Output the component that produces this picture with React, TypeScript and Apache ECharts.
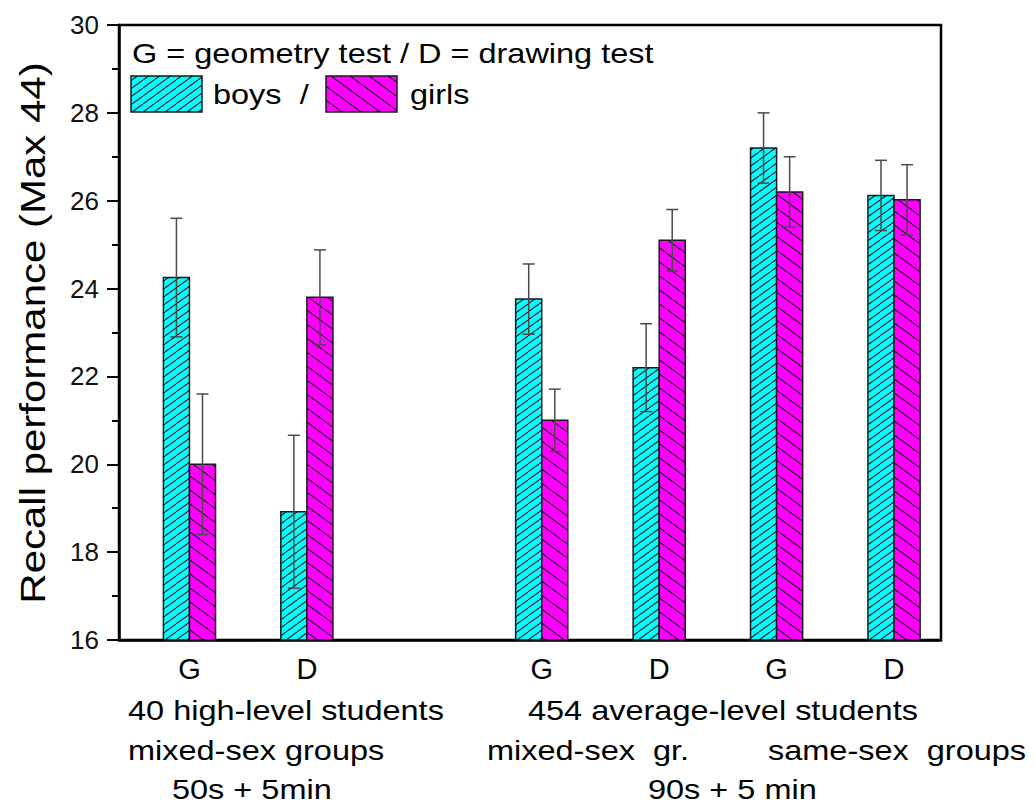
import React, { useEffect, useRef } from 'react';
import * as echarts from 'echarts';

// ---- data ----
const testLabels = ['G', 'D', 'G', 'D', 'G', 'D'];
const groupPositions = [0, 1, 3, 4, 5, 6];
const boysMean = [24.25, 18.92, 23.76, 22.2, 27.2, 26.12];
const boysErr = [1.35, 1.74, 0.8, 1.0, 0.8, 0.8];
const girlsMean = [20.0, 23.8, 21.0, 25.1, 26.2, 26.02];
const girlsErr = [1.6, 1.08, 0.71, 0.7, 0.8, 0.8];
const yTicks = { min: 16, max: 30, interval: 2 };
const yTitle = 'Recall performance (Max 44)';
const legendTitle = 'G = geometry test / D = drawing test';
const seriesNames = ['boys', 'girls'];

const FONT = '"Liberation Sans", Arial, Helvetica, sans-serif';
const CYAN = '#00ffff';
const MAGENTA = '#ff00ff';

function hatch(bg: string, W: number, H: number, dir: 'up' | 'down') {
  const c = document.createElement('canvas');
  c.width = W;
  c.height = H;
  const g = c.getContext('2d')!;
  g.fillStyle = bg;
  g.fillRect(0, 0, W, H);
  g.strokeStyle = '#1c1c1c';
  g.lineWidth = 1.1;
  g.beginPath();
  if (dir === 'up') {
    for (let n = 0; n <= 2; n++) {
      g.moveTo(n * W, 0);
      g.lineTo((n - 1) * W, H);
    }
  } else {
    for (let n = -1; n <= 1; n++) {
      g.moveTo(n * W, 0);
      g.lineTo((n + 1) * W, H);
    }
  }
  g.stroke();
  return { image: c, repeat: 'repeat' };
}

export default function App() {
  const ref = useRef<HTMLDivElement>(null);
  useEffect(() => {
    if (!ref.current) return;
    const chart = echarts.init(ref.current, null, { renderer: 'svg' });
    const cyanPat = hatch(CYAN, 11, 8, 'up');
    const magPat = hatch(MAGENTA, 19, 14, 'down');

    const makeRender = (side: number, pattern: any) => (params: any, api: any) => {
      const x = api.value(0);
      const v = api.value(1);
      const e = api.value(2);
      const top = api.coord([x, v]);
      const base = api.coord([x, yTicks.min]);
      const unit = api.size([1, 0])[0];
      const bw = unit * 0.222;
      const x0 = side < 0 ? top[0] - bw : top[0];
      const cx = x0 + bw / 2;
      const hi = api.coord([x, v + e])[1];
      const lo = api.coord([x, v - e])[1];
      const es = { stroke: '#4a4a4a', lineWidth: 1.5 };
      return {
        type: 'group',
        children: [
          {
            type: 'rect',
            shape: { x: x0, y: top[1], width: bw, height: base[1] - top[1] },
            style: { fill: pattern, stroke: '#1a1a1a', lineWidth: 1.5 },
          },
          { type: 'line', shape: { x1: cx, y1: hi, x2: cx, y2: lo }, style: es },
          { type: 'line', shape: { x1: cx - 6, y1: hi, x2: cx + 6, y2: hi }, style: es },
          { type: 'line', shape: { x1: cx - 6, y1: lo, x2: cx + 6, y2: lo }, style: es },
        ],
      };
    };

    const txt = (text: string, x: number, y: number, size: number, sx: number) => ({
      type: 'text',
      x,
      y,
      scaleX: sx,
      style: {
        text,
        fontSize: size,
        fontFamily: FONT,
        fill: '#000',
        textAlign: 'left',
        textVerticalAlign: 'middle',
      },
    });

    const option: any = {
      animation: false,
      backgroundColor: '#fff',
      grid: {
        left: 119,
        top: 25,
        right: 94,
        bottom: 165,
        show: true,
        borderColor: '#000',
        borderWidth: 2.5,
        backgroundColor: 'transparent',
      },
      xAxis: {
        type: 'value',
        min: -0.6,
        max: 6.4,
        axisLine: { show: true, onZero: false, lineStyle: { color: '#000', width: 2.5 } },
        axisTick: { show: false },
        splitLine: { show: false },
        axisLabel: {
          customValues: groupPositions,
          formatter: (v: number) => {
            const i = groupPositions.indexOf(Math.round(v));
            return i >= 0 ? testLabels[i] : '';
          },
          fontSize: 29,
          fontFamily: FONT,
          color: '#000',
          margin: 14,
        },
      },
      yAxis: {
        type: 'value',
        min: yTicks.min,
        max: yTicks.max,
        interval: yTicks.interval,
        axisLine: { show: true, onZero: false, lineStyle: { color: '#000', width: 2.5 } },
        axisTick: { show: true, inside: false, length: 12, lineStyle: { color: '#000', width: 2 } },
        minorTick: { show: true, splitNumber: 2, length: 7, lineStyle: { color: '#000', width: 2 } },
        splitLine: { show: false },
        axisLabel: { fontSize: 26, fontFamily: FONT, color: '#111', margin: 20 },
      },
      series: [
        {
          type: 'custom',
          name: seriesNames[0],
          renderItem: makeRender(-1, cyanPat),
          encode: { x: 0, y: 1 },
          data: groupPositions.map((p, i) => [p, boysMean[i], boysErr[i]]),
        },
        {
          type: 'custom',
          name: seriesNames[1],
          renderItem: makeRender(1, magPat),
          encode: { x: 0, y: 1 },
          data: groupPositions.map((p, i) => [p, girlsMean[i], girlsErr[i]]),
        },
      ],
      graphic: [
        {
          type: 'text',
          x: 33,
          y: 333,
          rotation: Math.PI / 2,
          scaleX: 1.2,
          style: {
            text: yTitle,
            fontSize: 35,
            fontFamily: FONT,
            fill: '#000',
            textAlign: 'center',
            textVerticalAlign: 'middle',
          },
        },
        txt(legendTitle, 132, 53, 28, 1.16),
        {
          type: 'rect',
          shape: { x: 131, y: 76, width: 71, height: 36 },
          style: { fill: cyanPat, stroke: '#1a1a1a', lineWidth: 1.5 },
        },
        txt(seriesNames[0] + '  /', 213, 94, 28, 1.16),
        {
          type: 'rect',
          shape: { x: 326, y: 76, width: 71, height: 36 },
          style: { fill: magPat, stroke: '#1a1a1a', lineWidth: 1.5 },
        },
        txt(seriesNames[1], 410, 94, 28, 1.16),
        txt('40 high-level students', 128, 710, 28, 1.16),
        txt('mixed-sex groups', 128, 750, 28, 1.16),
        txt('50s + 5min', 172, 789, 28, 1.16),
        txt('454 average-level students', 528, 710, 28, 1.16),
        txt('mixed-sex  gr.', 487, 750, 28, 1.16),
        txt('same-sex  groups', 768, 750, 28, 1.16),
        txt('90s + 5 min', 648, 789, 28, 1.16),
      ],
    };
    chart.setOption(option);
    return () => chart.dispose();
  }, []);
  return (
    <div
      ref={ref}
      style={{ position: 'fixed', left: 0, top: 0, width: 1035, height: 805, background: '#fff' }}
    />
  );
}
